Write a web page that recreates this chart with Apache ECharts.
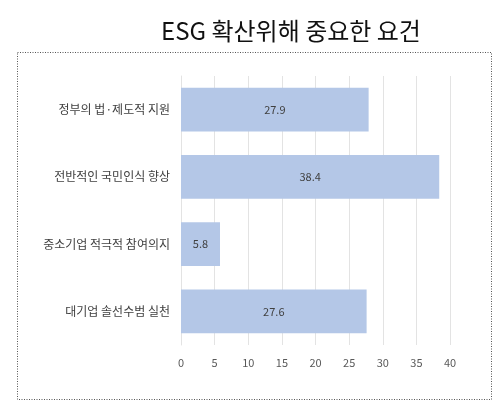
<!DOCTYPE html>
<html><head><meta charset="utf-8">
<script src="https://cdn.jsdelivr.net/npm/echarts@6/dist/echarts.min.js"></script>
<style>html,body{margin:0;padding:0;background:#fff}#c{width:500px;height:419px}</style>
</head><body><div id="c"></div>
<script>
const categories = ['정부의 법·제도적 지원', '전반적인 국민인식 향상', '중소기업 적극적 참여의지', '대기업 솔선수범 실천'];
const values = [27.9, 38.4, 5.8, 27.6];
const xTicks = [0, 5, 10, 15, 20, 25, 30, 35, 40];
const titleText = 'ESG 확산위해 중요한 요건';

const chart = echarts.init(document.getElementById('c'), null, {renderer: 'canvas'});
chart.setOption({
  animation: false,
  backgroundColor: '#fff',
  title: {
    text: titleText, left: 286, top: 14, textAlign: 'center',
    textStyle: {fontFamily: 'Noto Sans CJK KR', fontSize: 24, fontWeight: 'normal', color: '#111'}
  },
  graphic: [{
    type: 'rect', shape: {x: 17.5, y: 52.5, width: 474, height: 347},
    style: {fill: null, stroke: '#555', lineWidth: 1, lineDash: [1, 1.5]}, silent: true
  }],
  grid: {left: 181, right: 50, top: 76, bottom: 74, containLabel: false},
  xAxis: {
    type: 'value', min: 0, max: 40, interval: 5,
    axisLine: {show: false}, axisTick: {show: false},
    splitLine: {show: true, lineStyle: {color: '#e3e3e3', width: 1}},
    axisLabel: {color: '#595959', fontSize: 11, fontFamily: 'Noto Sans CJK KR', margin: 12,
      formatter: v => xTicks.includes(v) ? String(v) : ''}
  },
  yAxis: {
    type: 'category', data: categories, inverse: true,
    axisLine: {show: true, lineStyle: {color: '#e3e3e3'}}, axisTick: {show: false},
    axisLabel: {color: '#404040', fontSize: 12, fontFamily: 'Noto Sans CJK KR', margin: 11}
  },
  series: [{
    type: 'bar', data: values, barWidth: '65%',
    itemStyle: {color: '#b4c7e7'},
    label: {show: true, position: 'inside', color: '#404040', fontSize: 11, fontFamily: 'Noto Sans CJK KR',
      formatter: p => p.value.toFixed(1)}
  }]
});
</script></body></html>
